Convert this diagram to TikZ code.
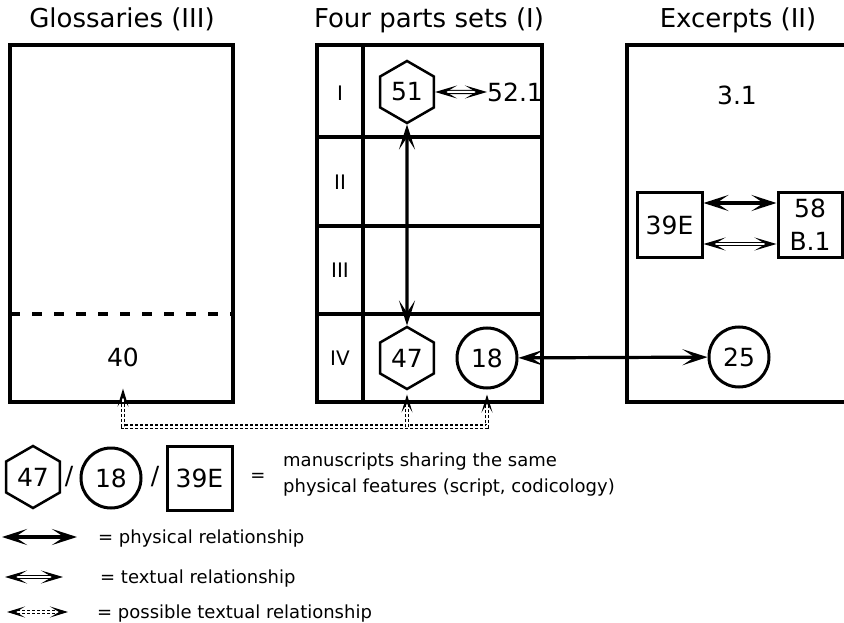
\documentclass[tikz,border=0pt]{standalone}
\usepackage{fontspec}
\setmainfont{DejaVu Sans}
\usetikzlibrary{arrows.meta,shapes.geometric}
\begin{document}
\begin{tikzpicture}[x=1pt,y=-1pt,
  frame/.style={line width=4pt},
  rowline/.style={line width=3.4pt},
  title/.style={font=\fontsize{26}{30}\selectfont, anchor=base, inner sep=0pt},
  num/.style={font=\fontsize{25}{30}\selectfont, inner sep=0pt},
  rowlabel/.style={font=\fontsize{20}{24}\selectfont, inner sep=0pt},
  legend/.style={font=\fontsize{18}{26}\selectfont, inner sep=0pt},
  hexa/.style={num, draw, line width=2.5pt, regular polygon, regular polygon sides=6,
    shape border rotate=30, minimum size=62pt},
  circ/.style={num, draw, circle, line width=3pt, minimum size=60pt},
  sqbox/.style={num, draw, line width=3pt, minimum width=65pt, minimum height=64pt},
  phys/.style={line width=3.2pt,
    {Stealth[length=25pt,width=16pt,inset=12pt]}-{Stealth[length=25pt,width=16pt,inset=12pt]}},
  txt/.style={double, double distance=2pt, line width=1.2pt,
    {Stealth[length=22pt,width=13pt,inset=11pt]}-{Stealth[length=22pt,width=13pt,inset=11pt]}},
  possline/.style={double, double distance=2pt, line width=1.2pt, dash pattern=on 3pt off 2pt},
  posstip/.style={double, double distance=2pt, line width=1.2pt,
    -{Stealth[length=18pt,width=11pt,inset=9pt]}},
  dashline/.style={line width=4pt, dash pattern=on 10pt off 12pt}
]
\useasboundingbox (0,0) rectangle (844,623);
\clip (0,0) rectangle (844,623);

% column titles
\node[title] (tG) at (122,28) {Glossaries (III)};
\node[title] (tF) at (429,28) {Four parts sets (I)};
\node[title] (tE) at (738,28) {Excerpts (II)};

% Glossaries column
\draw[frame] (10,45) rectangle (233,402);
\draw[dashline] (10,314) -- (233,314);
\node[num] (n40) at (123,357) {40};

% Four parts sets column with its four rows
\draw[frame] (317,45) rectangle (542,402);
\draw[rowline] (363,45) -- (363,402);
\draw[rowline] (317,137) -- (542,137);
\draw[rowline] (317,226) -- (542,226);
\draw[rowline] (317,314) -- (542,314);
\node[rowlabel] (r1) at (340,93) {I};
\node[rowlabel] (r2) at (340,182) {II};
\node[rowlabel] (r3) at (340,270) {III};
\node[rowlabel] (r4) at (340,358) {IV};

\node[hexa] (h51) at (407,92) {51};
\node[num, anchor=west] (n52) at (487,92) {52.1};
\node[hexa] (h47) at (407,358) {47};
\node[circ] (c18) at (487,358) {18};

% Excerpts column (runs past the right edge)
\draw[frame] (900,45) -- (627,45) -- (627,402) -- (900,402);
\node[num] (n31) at (737,95) {3.1};
\node[sqbox] (b39) at (669.5,225) {39E};
\node[sqbox, minimum width=64pt, align=center, font=\fontsize{25}{33}\selectfont] (b58) at (810,225) {58\\B.1};
\node[circ] (c25) at (739,357) {25};

% relationships
\draw[txt] (h51) -- (n52);
\draw[phys] (h51) -- (h47);
\draw[phys] (c18) -- (c25);
\draw[phys] ([yshift=22pt]b39.east) -- ([yshift=22pt]b58.west);
\draw[txt] ([yshift=-19pt]b39.east) -- ([yshift=-19pt]b58.west);

% possible textual relationship between 40, 47 and 18
\coordinate (bus) at ([yshift=-37pt]c18.south);
\coordinate (e40) at ([yshift=-22pt]n40.south);
\coordinate (e47) at ([yshift=-4pt]h47.south);
\coordinate (e18) at ([yshift=-5pt]c18.south);
\draw[possline] ([yshift=-10pt]e40) |- (bus) -- ([yshift=-10pt]e18);
\draw[possline] (h47.south |- bus) -- ([yshift=-10pt]e47);
\draw[posstip] ([yshift=-9pt]e40) -- (e40);
\draw[posstip] ([yshift=-9pt]e47) -- (e47);
\draw[posstip] ([yshift=-9pt]e18) -- (e18);

% legend
\node[hexa] (lh) at (33,477) {47};
\node[num] (sl1) at (69,477) {/};
\node[circ] (lc) at (111,478) {18};
\node[num] (sl2) at (155,477) {/};
\node[sqbox] (lb) at (199.5,478) {39E};
\node[legend] (leq) at (258,477) {=};
\node[legend, anchor=north west, align=left] (ldesc) at (283,453) {manuscripts sharing the same\\physical features (script, codicology)};

\coordinate (pa) at (2,537);
\coordinate (pb) at (77,537);
\draw[phys] (pa) -- (pb);
\node[legend, anchor=base west] (lp) at (98,543) {= physical relationship};

\coordinate (ta) at (5,577);
\coordinate (tb) at (63,577);
\draw[txt] (ta) -- (tb);
\node[legend, anchor=base west] (lt) at (100,583) {= textual relationship};

\coordinate (qa) at (7,612);
\coordinate (qb) at (68,612);
\draw[possline] ([xshift=10pt]qa) -- ([xshift=-10pt]qb);
\draw[posstip] ([xshift=9pt]qa) -- (qa);
\draw[posstip] ([xshift=-9pt]qb) -- (qb);
\node[legend, anchor=base west] (lq) at (97,618) {= possible textual relationship};
\end{tikzpicture}
\end{document}
